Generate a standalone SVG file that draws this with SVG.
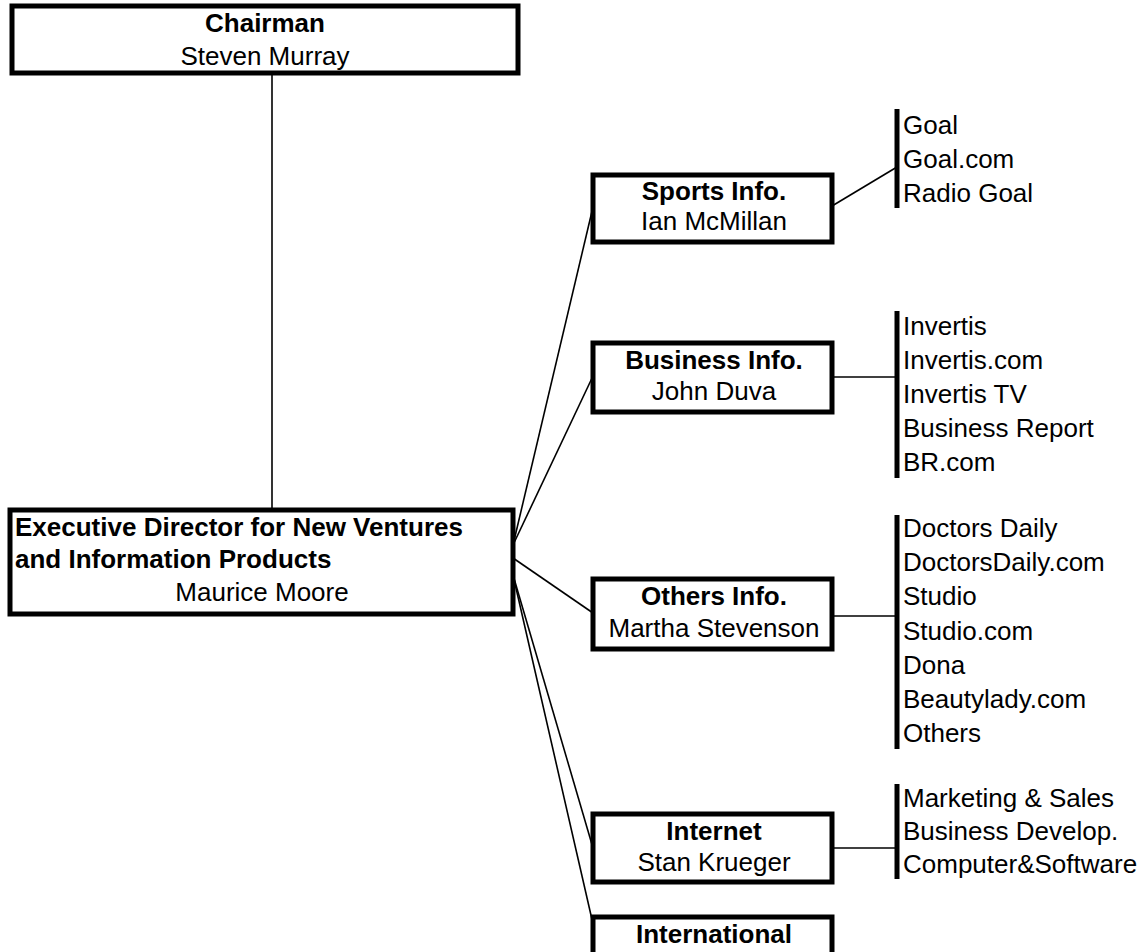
<svg xmlns="http://www.w3.org/2000/svg" width="1147" height="952" viewBox="0 0 1147 952">
<style>
.box{fill:#fff;stroke:#000;stroke-width:5}
.bar{stroke:#000;stroke-width:5;fill:none}
.con{stroke:#000;stroke-width:1.6;fill:none}
text{font-family:"Liberation Sans",Arial,Helvetica,sans-serif;font-size:26px;fill:#000}
.b{font-weight:bold}
.c{text-anchor:middle}
</style>
<rect width="1147" height="952" fill="#fff"/>
<g id="connectors">
<line class="con" x1="272" y1="73" x2="272" y2="510"/>
<line class="con" x1="513" y1="545" x2="593" y2="207"/>
<line class="con" x1="513" y1="545" x2="593" y2="376"/>
<line class="con" x1="513" y1="558" x2="593" y2="613"/>
<line class="con" x1="513" y1="575" x2="593" y2="848"/>
<line class="con" x1="513" y1="575" x2="593" y2="924"/>
<line class="con" x1="832" y1="206" x2="897" y2="167"/>
<line class="con" x1="832" y1="377" x2="897" y2="377"/>
<line class="con" x1="832" y1="616" x2="897" y2="616"/>
<line class="con" x1="832" y1="848" x2="897" y2="848"/>
</g>
<g id="chairman">
<rect class="box" x="12" y="6" width="506" height="67"/>
<text class="b c" x="265" y="32">Chairman</text>
<text class="c" x="265" y="65">Steven Murray</text>
</g>
<g id="executive">
<rect class="box" x="10" y="510" width="503" height="104"/>
<text class="b" x="15" y="536">Executive Director for New Ventures</text>
<text class="b" x="15" y="568">and Information Products</text>
<text class="c" x="262" y="601">Maurice Moore</text>
</g>
<g id="sports">
<rect class="box" x="593" y="175" width="239" height="67"/>
<text class="b c" x="714" y="200">Sports Info.</text>
<text class="c" x="714" y="230">Ian McMillan</text>
</g>
<g id="sports-list">
<line class="bar" x1="897" y1="109" x2="897" y2="208"/>
<text x="903" y="134">Goal</text>
<text x="903" y="168">Goal.com</text>
<text x="903" y="202">Radio Goal</text>
</g>
<g id="business">
<rect class="box" x="593" y="343" width="239" height="69"/>
<text class="b c" x="714" y="369">Business Info.</text>
<text class="c" x="714" y="400">John Duva</text>
</g>
<g id="business-list">
<line class="bar" x1="897" y1="311" x2="897" y2="478"/>
<text x="903" y="335">Invertis</text>
<text x="903" y="369">Invertis.com</text>
<text x="903" y="403">Invertis TV</text>
<text x="903" y="437">Business Report</text>
<text x="903" y="471">BR.com</text>
</g>
<g id="others">
<rect class="box" x="593" y="579" width="239" height="70"/>
<text class="b c" x="714" y="605">Others Info.</text>
<text class="c" x="714" y="637">Martha Stevenson</text>
</g>
<g id="others-list">
<line class="bar" x1="897" y1="515" x2="897" y2="749"/>
<text x="903" y="537">Doctors Daily</text>
<text x="903" y="571">DoctorsDaily.com</text>
<text x="903" y="605">Studio</text>
<text x="903" y="640">Studio.com</text>
<text x="903" y="674">Dona</text>
<text x="903" y="708">Beautylady.com</text>
<text x="903" y="742">Others</text>
</g>
<g id="internet">
<rect class="box" x="593" y="814" width="239" height="68"/>
<text class="b c" x="714" y="840">Internet</text>
<text class="c" x="714" y="871">Stan Krueger</text>
</g>
<g id="internet-list">
<line class="bar" x1="897" y1="784" x2="897" y2="879"/>
<text x="903" y="807">Marketing &amp; Sales</text>
<text x="903" y="840">Business Develop.</text>
<text x="903" y="873">Computer&amp;Software</text>
</g>
<g id="international">
<rect class="box" x="593" y="917" width="239" height="68"/>
<text class="b c" x="714" y="943">International</text>
</g>
</svg>
